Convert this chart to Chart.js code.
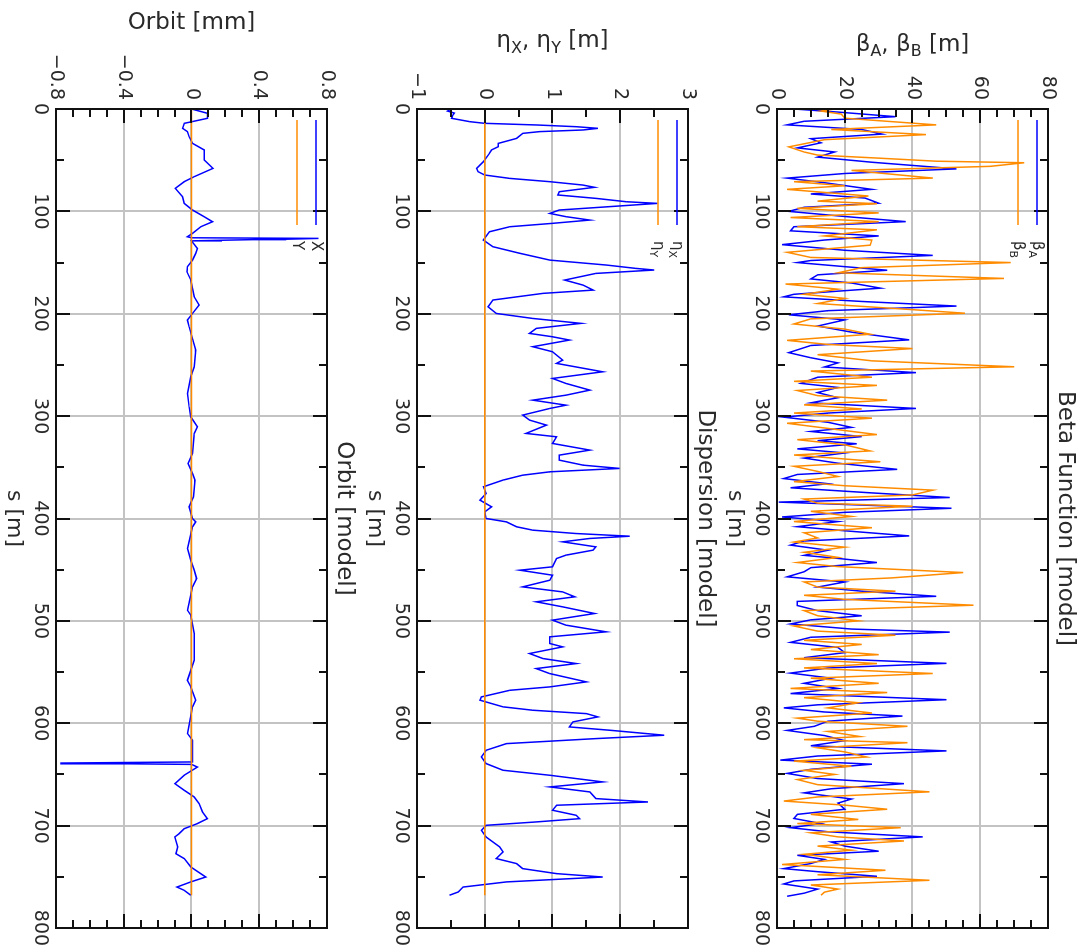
<!DOCTYPE html>
<html>
<head>
<meta charset="utf-8">
<script src="https://cdn.jsdelivr.net/npm/chart.js@4.4.0/dist/chart.umd.min.js"></script>
<style>
html, body { margin: 0; padding: 0; background: #fff; overflow: hidden; }
#page {
    position: absolute; left: 0; top: 0; width: 951px; height: 1086px;
    transform-origin: 0 0; transform: translate(1086px, 0) rotate(90deg);
    background: #fff;
}
#page canvas { display: block; }
</style>
</head>
<body>
<div id="page">
<canvas id="beta" width="951" height="362"></canvas>
<canvas id="disp" width="951" height="362"></canvas>
<canvas id="orbit" width="951" height="362"></canvas>
</div>
<script>
// beta function, A plane (blue)
const betaA_s = [
    0, 3, 7.5, 12, 15.5, 20, 24.5, 29, 33, 38,
    42, 47, 52, 58.5, 63, 67.5, 72, 78.5, 83, 87,
    92, 96, 100, 105, 110, 115, 119, 124, 128, 132.5,
    138, 143, 148, 150, 154, 157.5, 162, 166, 170, 175,
    181, 183.5, 188, 192.5, 197, 201, 206, 212, 218, 225.5,
    231, 238, 243, 248, 252, 257.5, 262, 268, 272, 277,
    282, 287, 292.5, 297, 301, 306, 311, 315, 320, 324,
    327, 332, 336, 341, 346, 352, 357, 361, 366, 370,
    375, 379.5, 384, 390, 394, 398.5, 403, 408, 412, 417,
    422, 426, 431, 436, 439, 443, 448, 452, 457, 462,
    467, 471, 476, 481, 485, 490, 495, 499, 503, 508,
    511, 516, 521, 526, 531, 536, 541.5, 546, 551, 556,
    561, 566, 571, 577, 582, 585, 589, 593, 598, 603,
    607, 612, 617, 622, 627, 632, 636, 640, 645, 649,
    654, 659, 664, 668, 674, 678, 684, 689, 693, 698,
    702, 706, 711, 716, 720, 725, 729, 733, 737, 742,
    745, 749.5, 754, 757, 762, 766, 769
];
const betaA = [
    5, 18, 35, 8, 3, 25, 31, 10, 13, 6,
    17, 12, 28, 53, 20, 3, 14, 28, 10, 26,
    30, 8, 3.5, 20, 38, 5, 4, 30, 14, 1.5,
    20, 46, 10, 6, 20, 32.5, 12, 10, 22, 30.5,
    5, 2, 25, 53, 15, 3.5, 20, 12, 22, 39,
    10, 3.5, 10, 18, 14, 41, 12, 7, 18, 12,
    18, 10, 41, 15, 2, 15, 22, 10, 25, 12,
    23.5, 6, 20, 8, 18, 35.5, 6, 2, 15, 4,
    28, 51, 0.5, 51.5, 20, 1.5, 18, 6, 20, 39,
    8, 4, 15, 8, 18, 29.5, 10, 8, 3, 20,
    12, 25, 47, 6, 6, 12, 25, 10, 4, 22,
    51, 10, 4, 18, 20, 8, 50, 15, 4, 16,
    8, 18, 4, 50, 12, 2, 14, 37, 15, 11,
    3, 14, 20, 10, 50, 12, 1, 28, 10, 3,
    12, 37.5, 16, 8, 22, 18, 20, 6, 5, 13,
    4, 15, 43, 16, 20, 30, 6, 14, 10, 2,
    12, 29.5, 5, 2, 12, 8, 3
];

// beta function, B plane (orange)
const betaB_s = [
    0, 2, 5, 9, 15.5, 20, 25, 30, 37, 42,
    45, 48, 51, 52.5, 56, 60, 67.5, 71, 75, 78.5,
    85, 90, 92.5, 97, 101.5, 106, 110, 115, 118, 124,
    128, 133, 140, 145, 150, 155, 160, 165.5, 171, 176,
    181, 185, 190, 196, 199.5, 205, 210, 215, 220, 226,
    230, 234, 240, 246, 251.8, 256, 262, 266, 270, 275,
    280, 284.4, 289, 293, 297, 302, 307, 312, 318, 323,
    328, 334, 338, 344.6, 349, 354, 359, 364, 368, 372.3,
    377, 381, 385, 388, 393, 398, 403, 409, 414, 419,
    423, 428, 433, 438, 443, 447, 452.8, 458, 462, 467,
    471, 475, 479, 484.7, 490, 495, 500, 505, 510, 514,
    519, 523, 528, 533, 537, 541.7, 546, 551.4, 556, 561,
    566, 570, 575, 580, 585, 590, 595, 598, 603, 608,
    613, 616, 619, 624, 628, 633, 637, 642, 646, 650,
    655, 660, 667, 672, 676, 680, 684, 689, 694, 698,
    702, 707, 711, 715, 720, 724, 728, 733, 738, 743.6,
    748, 753.4, 758, 762, 765, 768
];
const betaB = [
    17, 13, 19, 20, 47, 16, 44, 14, 3.5, 8,
    12, 30, 47, 73, 63, 22, 46, 5, 20, 3,
    27, 12, 29.5, 6, 30, 4, 30, 6, 29.5, 14,
    28, 27.5, 3, 10, 69, 25, 18, 67, 2.5, 18,
    8, 20, 12, 40, 55.5, 10, 5, 20, 27.5, 3,
    15, 40, 12, 28, 70, 10, 28, 5, 29.5, 6,
    12, 32.5, 8, 25, 5, 28, 3, 15, 29.5, 6,
    20, 27.5, 5, 30.5, 5, 12, 18, 5, 20, 46,
    40, 8, 12, 40, 10, 22, 5, 28, 8, 12,
    5, 20, 8, 18, 6, 18, 55, 34, 8, 12,
    35, 8, 20, 58, 8, 12, 24, 5, 12, 35,
    8, 25, 10, 30, 5, 29.5, 8, 46, 10, 30,
    4, 32.5, 8, 24, 15, 28, 6, 12, 38.5, 15,
    24.5, 8, 38.5, 12, 20, 26.5, 5, 22, 8, 17,
    6, 12, 45, 12, 2, 20, 32.5, 10, 24, 6,
    36.5, 10, 18, 37.5, 12, 22, 8, 20, 1.5, 32,
    12, 45, 10, 18, 14, 13
];

// horizontal dispersion (blue)
const etaX_s = [
    0, 2, 4, 6, 9.1, 12.4, 14, 15.6, 17.3, 18.9,
    20.5, 22.1, 23.8, 28.7, 33.6, 36.8, 40, 43.3, 51.5, 58,
    61.2, 64.5, 67.8, 71, 74.3, 76.5, 80.8, 84, 87.3, 90.6,
    92.2, 95.4, 98.7, 102, 105.2, 108.5, 111.7, 115, 119.9, 128,
    134.5, 141, 147.6, 152.4, 155.7, 157.3, 160.6, 167.1, 172, 176.9,
    180.1, 186.6, 193.2, 199.7, 204.6, 209.4, 214.3, 219.2, 222.5, 225.7,
    232.2, 237.1, 245.3, 248.5, 256.7, 263.2, 268.1, 274.6, 279.5, 284.4,
    289.3, 292.5, 299, 303.9, 308.8, 316.9, 320.2, 326.7, 333.2, 338.1,
    343, 347.9, 351.1, 354.4, 357.7, 362.5, 369, 375.6, 382.1, 388.6,
    393.5, 400, 403.3, 408.1, 411.4, 414.7, 417.3, 419.5, 422.8, 427.7,
    430.9, 435.8, 439.1, 447.2, 450.5, 455.4, 460.3, 466.8, 471.7, 476.5,
    481.4, 486.3, 492.8, 499.3, 504.2, 510.7, 515.6, 522.1, 525.4, 531.9,
    536.8, 541.7, 546.6, 551.5, 559.6, 564.5, 567.8, 574.3, 577.5, 584,
    587.3, 590.6, 593.8, 598.7, 603.6, 606.8, 611.7, 615, 619.9, 626.4,
    632.9, 639.4, 645.9, 650.8, 657.3, 662.2, 667.1, 673.6, 676.9, 680.1,
    685, 689.9, 693.2, 696.4, 699.7, 704.6, 711.1, 720.8, 725.7, 732.2,
    737.1, 742, 746.9, 750.2, 755, 760, 764.8, 768
];
const etaX = [
    -0.5, -0.55, -0.45, -0.47, -0.49, -0.22, 0, 0.76, 1.35, 1.67,
    1.45, 0.81, 0.56, 0.47, 0.2, 0.2, 0.1, 0.07, -0.02, -0.12,
    -0.1, 0, 0.37, 0.96, 1.45, 1.62, 1.1, 1.08, 1.64, 2.09,
    2.55, 1.84, 1.1, 0.96, 1.2, 1.55, 1.0, 0.37, 0.07, -0.02,
    0.12, 0.52, 0.96, 1.79, 2.23, 2.5, 1.64, 1.18, 1.45, 1.6,
    0.86, 0.12, 0.05, 0.17, 0.71, 1.42, 0.76, 0.66, 1.0, 1.25,
    0.71, 1.0, 1.15, 1.06, 1.74, 1.0, 1.2, 1.55, 1.2, 0.71,
    1.2, 0.96, 0.56, 0.66, 0.91, 0.61, 1.06, 1.0, 1.55, 1.1,
    1.1, 1.45, 1.99, 0.96, 0.56, 0.27, -0.02, 0.02, -0.07, 0.1,
    0, 0.02, 0.32, 0.47, 0.71, 1.35, 2.14, 1.55, 1.15, 1.64,
    1.6, 1.2, 1.06, 1.0, 0.52, 1.0, 0.96, 0.56, 1.15, 1.33,
    0.76, 1.15, 1.62, 1.0, 1.2, 1.79, 0.96, 0.96, 1.15, 0.66,
    0.86, 1.35, 0.76, 0.96, 1.5, 0.96, 0.37, -0.05, -0.07, 0.27,
    0.71, 1.5, 1.67, 1.3, 1.25, 1.84, 2.65, 1.64, 0.32, 0.02,
    -0.05, 0.02, 0.27, 0.96, 1.74, 0.96, 1.55, 1.64, 2.41, 1.06,
    1.0, 1.35, 1.4, 0.76, 0.02, -0.05, 0.02, 0.22, 0.27, 0.17,
    0.47, 0.56, 1.06, 1.74, 0.32, -0.32, -0.39, -0.52
];

// vertical dispersion (orange)
const etaY_s = [0, 768];
const etaY = [0, 0];

// horizontal orbit in mm (blue)
const orbitX_s = [
    0, 4.2, 9.1, 14, 18.9, 22.1, 27, 33.6, 40, 49.8,
    58, 66.1, 71, 77.5, 85.7, 92.2, 98.7, 105.2, 110.1, 115,
    121.5, 124.8, 125.8, 126.4, 127.2, 127.6, 128.2, 128.8, 136.2, 141,
    147.6, 154, 159, 167.1, 183.4, 191.5, 199.7, 206.2, 212.7, 235.5,
    251.8, 261.6, 277.9, 290.9, 300.7, 310.4, 316.9, 336.5, 346.3, 356,
    362.5, 378.8, 388.6, 400, 403.3, 408.1, 429.3, 440.7, 450.5, 458.6,
    466.8, 489.6, 494.5, 512.4, 538.4, 558, 564.5, 577.5, 584, 610,
    616.6, 637.8, 638.9, 639.6, 640.2, 642.8, 650.8, 659, 665.5, 672,
    678.5, 686.6, 693.2, 698, 703, 707.8, 711.1, 720.8, 727.4, 732.2,
    740.4, 750.2, 755, 760, 763.2, 768
];
const orbitX = [
    0, 0.094, 0.094, -0.043, -0.053, -0.024, -0.014, 0.006, 0.075, 0.075,
    0.127, 0.016, -0.043, -0.096, -0.053, -0.043, 0.006, 0.075, 0.124, 0.055,
    0.006, -0.024, 0, 0.75, 0.56, 0.36, 0.18, 0, 0.035, 0.025,
    0.006, -0.024, -0.027, -0.004, 0.016, 0.045, 0.006, -0.024, -0.014, 0.025,
    0.016, -0.004, -0.024, -0.014, -0.004, 0.035, 0.016, 0.006, -0.02, 0.006,
    0.02, 0.012, -0.014, 0.006, 0.025, 0.006, -0.024, -0.004, 0.016, 0.03,
    0.006, -0.024, -0.004, 0.016, 0.016, -0.024, -0.004, 0.025, 0.006, -0.024,
    0.006, 0.006, -0.77, -0.38, 0, 0.035, -0.043, -0.098, -0.043, 0.016,
    0.045, 0.065, 0.094, 0.035, -0.043, -0.073, -0.098, -0.082, -0.092, -0.043,
    -0.004, 0.084, -0.004, -0.086, -0.043, -0.004
];

// vertical orbit in mm (orange)
const orbitY_s = [0, 768];
const orbitY = [0, 0];

const sTicks = { min: 0, max: 800, step: 100, minor: 50 };

const TEXT = '#2a2a2a';
const GRID = '#c3c3c3';
const BLUE = '#0000ff';
const ORANGE = '#ff8c00';
const FAMILY = '"DejaVu Sans", "Liberation Sans", sans-serif';
const TICK_SIZE = 19;

function fontOf(size) {
    return size + 'px ' + FAMILY;
}

function pts(s, v) {
    return s.map(function (x, i) { return { x: x, y: v[i] }; });
}

// text made of plain and subscript pieces: [[text, isSub], ...]
function drawRich(ctx, parts, x, y, size, align) {
    const sub = Math.round(size * 0.7);
    const ws = parts.map(function (p) {
        ctx.font = fontOf(p[1] ? sub : size);
        return ctx.measureText(p[0]).width;
    });
    let px = x;
    if (align === 'center') {
        px -= ws.reduce(function (a, b) { return a + b; }, 0) / 2;
    }
    ctx.fillStyle = TEXT;
    ctx.textAlign = 'left';
    ctx.textBaseline = 'middle';
    parts.forEach(function (p, i) {
        ctx.font = fontOf(p[1] ? sub : size);
        ctx.fillText(p[0], px, p[1] ? y + size * 0.32 : y);
        px += ws[i];
    });
}

function eachTick(min, max, minor, major, fn) {
    for (let k = 0; ; k++) {
        const v = min + k * minor;
        if (v > max + minor * 1e-6) break;
        const r = v / major;
        fn(v, Math.abs(r - Math.round(r)) < 1e-6);
    }
}

const panelDecor = {
    id: 'panelDecor',
    afterDatasetsDraw: function (chart, args, o) {
        const ctx = chart.ctx, a = chart.chartArea;
        const xs = chart.scales.x, ys = chart.scales.y;
        ctx.save();

        // inward ticks on all four sides, then the frame
        ctx.strokeStyle = '#111';
        ctx.lineWidth = 2;
        ctx.beginPath();
        eachTick(xs.min, xs.max, o.minorX, o.majorX, function (v, major) {
            const p = Math.round(xs.getPixelForValue(v)), len = major ? 14 : 8;
            ctx.moveTo(p, a.bottom); ctx.lineTo(p, a.bottom - len);
            ctx.moveTo(p, a.top); ctx.lineTo(p, a.top + len);
        });
        eachTick(ys.min, ys.max, o.minorY, o.majorY, function (v, major) {
            const p = Math.round(ys.getPixelForValue(v)), len = major ? 14 : 8;
            ctx.moveTo(a.left, p); ctx.lineTo(a.left + len, p);
            ctx.moveTo(a.right, p); ctx.lineTo(a.right - len, p);
        });
        ctx.stroke();
        ctx.strokeRect(a.left, a.top, a.right - a.left, a.bottom - a.top);

        // legend inside the frame
        o.legend.forEach(function (item, i) {
            const y = a.top + 11 + i * 19;
            ctx.strokeStyle = item.color;
            ctx.lineWidth = 1.5;
            ctx.beginPath();
            ctx.moveTo(a.left + 11, y);
            ctx.lineTo(a.left + 116, y);
            ctx.stroke();
            drawRich(ctx, item.label, a.left + 132, y, 15, 'left');
        });

        const cx = (a.left + a.right) / 2;
        drawRich(ctx, o.title, cx, a.top - 17, 23, 'center');
        drawRich(ctx, o.xTitle, cx, a.bottom + 42, 22, 'center');

        ctx.font = fontOf(TICK_SIZE);
        const maxW = Math.max.apply(null, ys.ticks.map(function (t) { return ctx.measureText(t.label).width; }));
        ctx.translate(a.left - 9 - maxW - 31, (a.top + a.bottom) / 2);
        ctx.rotate(-Math.PI / 2);
        drawRich(ctx, o.yTitle, 0, 0, 23, 'center');
        ctx.restore();
    }
};

function fmtValue(v, digits) {
    const r = Number(v.toFixed(digits));
    if (r === 0) return '0';
    return (r < 0 ? '\u2212' : '') + Math.abs(r).toFixed(digits);
}

function makePanel(id, cfg) {
    const tickFont = { family: FAMILY, size: TICK_SIZE };
    return new Chart(document.getElementById(id), {
        type: 'line',
        data: {
            datasets: [
                { data: pts(cfg.blueS, cfg.blue), borderColor: BLUE, order: 2 },
                { data: pts(cfg.orangeS, cfg.orange), borderColor: ORANGE, order: 1 }
            ]
        },
        options: {
            responsive: false,
            animation: false,
            devicePixelRatio: 1,
            layout: { padding: { top: cfg.top, right: 23, left: 0, bottom: 0 } },
            elements: {
                point: { radius: 0 },
                line: { tension: 0, borderWidth: 1.5, fill: false }
            },
            plugins: {
                legend: { display: false },
                tooltip: { enabled: false },
                panelDecor: {
                    title: cfg.title, xTitle: [['s [m]']], yTitle: cfg.yTitle,
                    legend: [
                        { label: cfg.blueLabel, color: BLUE },
                        { label: cfg.orangeLabel, color: ORANGE }
                    ],
                    majorX: sTicks.step, minorX: sTicks.minor,
                    majorY: cfg.step, minorY: cfg.minor
                }
            },
            scales: {
                x: {
                    type: 'linear', min: sTicks.min, max: sTicks.max,
                    ticks: {
                        stepSize: sTicks.step, padding: 5, maxRotation: 0, autoSkip: false,
                        color: TEXT, font: tickFont,
                        callback: function (v) { return String(v); }
                    },
                    grid: { color: GRID, lineWidth: 2, drawTicks: false },
                    border: { display: false },
                    afterFit: function (s) {
                        s.height = 362 - cfg.top - 271;
                        s.paddingLeft = 0; s.paddingRight = 0;
                    }
                },
                y: {
                    min: cfg.min, max: cfg.max,
                    ticks: {
                        stepSize: cfg.step, padding: 9, color: TEXT, font: tickFont,
                        callback: function (v) { return fmtValue(v, cfg.digits); }
                    },
                    grid: { color: GRID, lineWidth: 2, drawTicks: false },
                    border: { display: false },
                    afterFit: function (s) {
                        s.width = 109;
                        s.paddingTop = 0; s.paddingBottom = 0;
                    }
                }
            }
        },
        plugins: [panelDecor]
    });
}

makePanel('beta', {
    top: 38, min: 0, max: 80, step: 20, minor: 5, digits: 0,
    blueS: betaA_s, blue: betaA, orangeS: betaB_s, orange: betaB,
    title: [['Beta Function [model]']],
    yTitle: [['\u03b2'], ['A', 1], [', \u03b2'], ['B', 1], [' [m]']],
    blueLabel: [['\u03b2'], ['A', 1]],
    orangeLabel: [['\u03b2'], ['B', 1]]
});

makePanel('disp', {
    top: 36, min: -1, max: 3, step: 1, minor: 0.5, digits: 0,
    blueS: etaX_s, blue: etaX, orangeS: etaY_s, orange: etaY,
    title: [['Dispersion [model]']],
    yTitle: [['\u03b7'], ['X', 1], [', \u03b7'], ['Y', 1], [' [m]']],
    blueLabel: [['\u03b7'], ['X', 1]],
    orangeLabel: [['\u03b7'], ['Y', 1]]
});

makePanel('orbit', {
    top: 35, min: -0.8, max: 0.8, step: 0.4, minor: 0.1, digits: 1,
    blueS: orbitX_s, blue: orbitX, orangeS: orbitY_s, orange: orbitY,
    title: [['Orbit [model]']],
    yTitle: [['Orbit [mm]']],
    blueLabel: [['X']],
    orangeLabel: [['Y']]
});
</script>
</body>
</html>
